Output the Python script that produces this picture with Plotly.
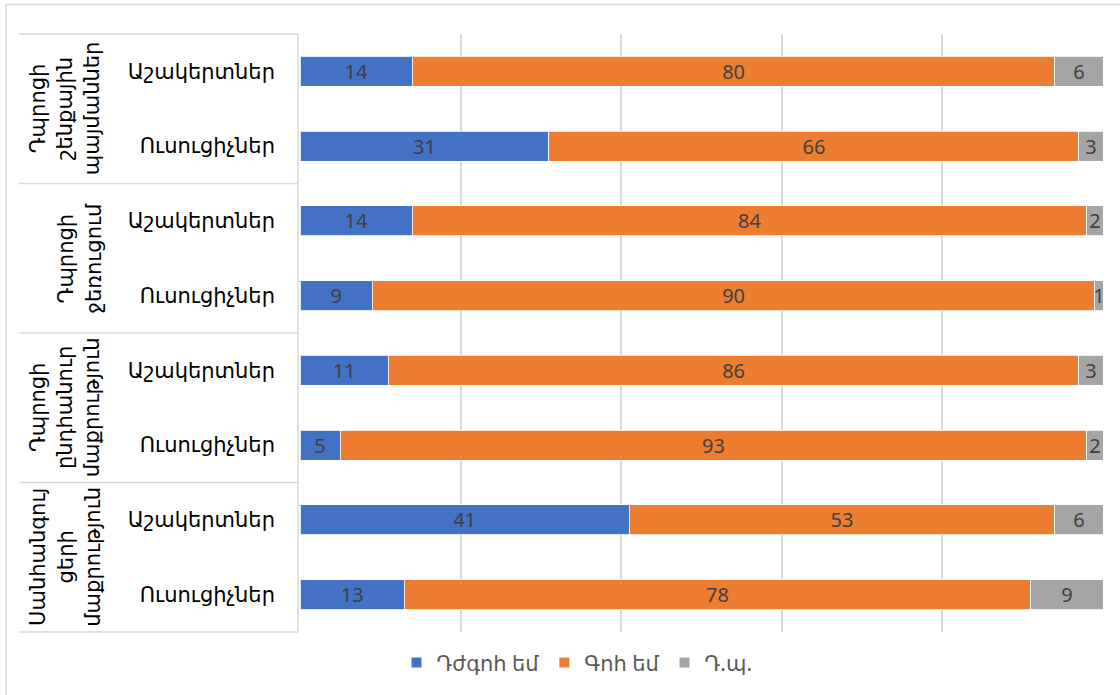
import plotly.graph_objects as go

groups = ["Դպրոցի<br>շենքային<br>պայմաններ", "Դպրոցի<br>ջեռուցում",
          "Դպրոցի<br>ընդհանուր<br>մաքրություն", "Սանհանգույ<br>ցերի<br>մաքրություն"]
subs = ["Աշակերտներ", "Ուսուցիչներ"]
series_names = ["Դժգոհ եմ", "Գոհ եմ", "Դ.պ."]
colors = ["#4472C4", "#ED7D31", "#A5A5A5"]

dissatisfied = [14, 31, 14, 9, 11, 5, 41, 13]
satisfied = [80, 66, 84, 90, 86, 93, 53, 78]
dont_know = [6, 3, 2, 1, 3, 2, 6, 9]

cat_ids = [f"{g}|{s}" for g in range(len(groups)) for s in subs]
cat_text = [s for g in range(len(groups)) for s in subs]

W, H = 1120, 695
L, R, T, B = 300, 17, 34, 61
pw, ph = W - L - R, H - T - B

def px(x):
    return (x - L) / pw

def py(y):
    return (H - B - y) / ph

FONT = "Noto Sans, DejaVu Sans, sans-serif"

fig = go.Figure()
for name, vals, col in zip(series_names, [dissatisfied, satisfied, dont_know], colors):
    fig.add_trace(go.Bar(
        y=cat_ids, x=vals, name=name, orientation="h",
        marker=dict(color=col, line=dict(color="white", width=0.8)),
        text=[str(v) for v in vals], textposition="inside", insidetextanchor="middle",
        textangle=0,
        textfont=dict(color="#404040", size=20, family=FONT),
        constraintext="none", cliponaxis=False,
    ))

border = dict(color="#D9D9D9", width=1.5)
shapes = [
    dict(type="line", xref="paper", yref="paper", x0=px(6), x1=px(1125),
         y0=py(4.5), y1=py(4.5), line=border),
    dict(type="line", xref="paper", yref="paper", x0=px(6), x1=px(6),
         y0=py(4.5), y1=py(700), line=border),
]
for yy in [34, 184, 334, 484, 634]:
    shapes.append(dict(type="line", xref="paper", yref="paper",
                       x0=px(19), x1=px(298), y0=py(yy), y1=py(yy), line=border))
shapes.append(dict(type="line", xref="paper", yref="paper",
                   x0=px(298), x1=px(298), y0=py(34), y1=py(634), line=border))

annotations = []
for i, g in enumerate(groups):
    yc = 34 + 150 * i + 75
    annotations.append(dict(
        text=g, xref="paper", yref="paper", x=px(108), y=py(yc),
        xanchor="right", yanchor="middle", textangle=-90, showarrow=False,
        font=dict(size=21, color="#000000", family=FONT), align="center",
    ))

fig.update_layout(
    width=W, height=H,
    margin=dict(l=L, r=R, t=T, b=B, pad=0),
    barmode="stack", bargap=0.6,
    plot_bgcolor="white", paper_bgcolor="white",
    font=dict(family=FONT),
    xaxis=dict(range=[0, 100], dtick=20, showticklabels=False, showgrid=True,
               gridcolor="#D9D9D9", gridwidth=1.5, zeroline=False, showline=False,
               fixedrange=True),
    yaxis=dict(type="category", autorange="reversed", tickmode="array",
               tickvals=cat_ids, ticktext=cat_text, ticks="", ticklabelstandoff=24,
               tickfont=dict(size=21, color="#000000", family=FONT),
               showgrid=False, zeroline=False, showline=False),
    legend=dict(orientation="h", x=px(577), xanchor="center", y=py(665), yanchor="middle",
                font=dict(size=21, color="#595959", family=FONT),
                itemwidth=30, traceorder="normal", itemsizing="constant"),
    shapes=shapes, annotations=annotations,
    showlegend=True,
)

fig.write_html("out.html", config={"displayModeBar": False},
               post_script="document.body.style.margin='0';document.body.style.overflow='hidden';")
